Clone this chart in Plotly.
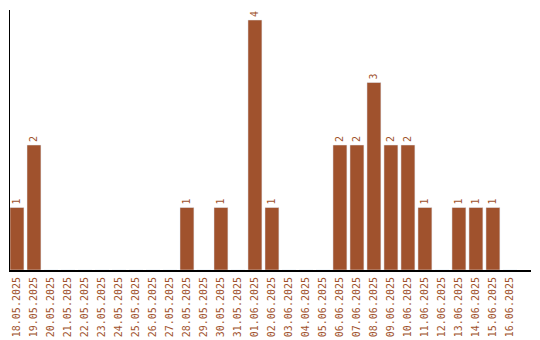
import plotly.graph_objects as go

dates = ["18.05.2025", "19.05.2025", "20.05.2025", "21.05.2025", "22.05.2025",
         "23.05.2025", "24.05.2025", "25.05.2025", "26.05.2025", "27.05.2025",
         "28.05.2025", "29.05.2025", "30.05.2025", "31.05.2025", "01.06.2025",
         "02.06.2025", "03.06.2025", "04.06.2025", "05.06.2025", "06.06.2025",
         "07.06.2025", "08.06.2025", "09.06.2025", "10.06.2025", "11.06.2025",
         "12.06.2025", "13.06.2025", "14.06.2025", "15.06.2025", "16.06.2025"]
counts = [1, 2, 0, 0, 0, 0, 0, 0, 0, 0,
          1, 0, 1, 0, 4, 1, 0, 0, 0, 2,
          2, 3, 2, 2, 1, 0, 1, 1, 1, 0]

color = "#A0522D"
labels = [str(v) if v > 0 else "" for v in counts]

fig = go.Figure(go.Bar(
    x=dates, y=counts, marker_color=color, text=labels,
    textposition="outside", textangle=-90, cliponaxis=False,
    textfont=dict(family="DejaVu Sans Mono", size=10, color=color),
))
fig.update_layout(
    width=540, height=340, margin=dict(l=10, r=9, t=10, b=70),
    plot_bgcolor="white", paper_bgcolor="white", bargap=0.18,
    showlegend=False,
)
fig.update_xaxes(type="category", range=[-0.41, 30.24], showline=True,
                 linecolor="black", linewidth=2, showgrid=False, ticks="",
                 tickangle=-90, ticklabelstandoff=1, automargin=False,
                 tickfont=dict(family="DejaVu Sans Mono", size=10, color=color))
fig.update_yaxes(range=[0, 4.16], showline=True, linecolor="black", linewidth=1,
                 showgrid=False, zeroline=False, showticklabels=False, ticks="",
                 automargin=False)
fig.write_html("out.html")
